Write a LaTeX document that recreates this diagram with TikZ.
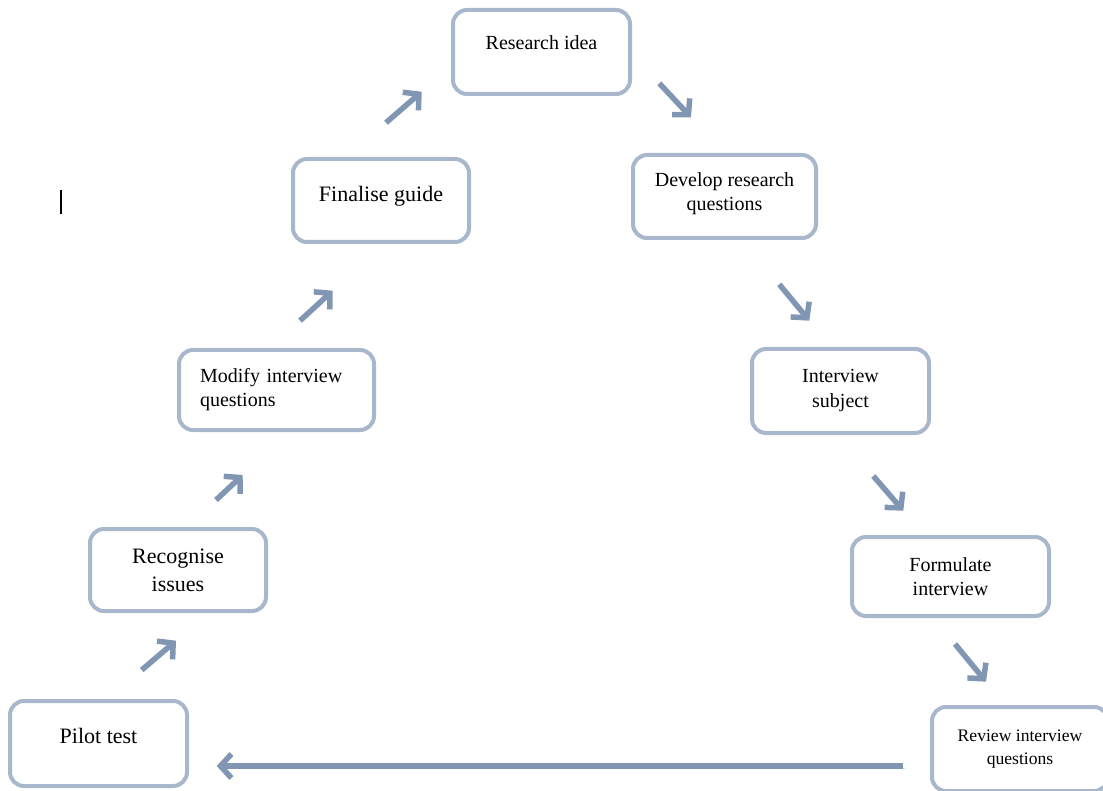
\documentclass[tikz,border=0pt]{standalone}
\usepackage{fontspec}
\setmainfont{Liberation Serif}
\usepackage{xcolor}
\usepackage{tikz}
\usetikzlibrary{arrows.meta,positioning}

\definecolor{boxline}{HTML}{A9B7CC}
\definecolor{arrowblue}{HTML}{8196B2}

\begin{document}
\begin{tikzpicture}[
    x=1pt, y=-1pt,
    stepbox/.style={rectangle, draw=boxline, line width=4pt, rounded corners=14pt, minimum width=177pt, minimum height=84pt, align=center, font=\fontsize{20}{24}\selectfont},
    bigtext/.style={font=\fontsize{22}{28}\selectfont},
    smalltext/.style={font=\fontsize{17.6}{23}\selectfont},
    arrow/.style={-{Straight Barb[length=11pt,width=24pt]}, line width=5.5pt, draw=arrowblue,
        preaction={draw=black, opacity=0.12, transform canvas={shift={(1.5pt,-2pt)}}}}
]
\useasboundingbox (0,0) rectangle (1103,791);

\node[stepbox, text depth=18pt] (idea) at (541.5,52) {Research idea};
\node[stepbox, bigtext, minimum width=176pt, minimum height=83pt, text depth=14pt] (guide) at (381,200.5) {Finalise guide};
\node[stepbox, minimum width=183pt, minimum height=83pt, text depth=10pt] (develop) at (724.5,196.5) {Develop research\\questions};
\node[stepbox, minimum width=195pt, minimum height=80pt, align=left, text width=153pt] (modify) at (276.5,390) {Modify interview\\questions};
\node[stepbox, font=\fontsize{20}{25}\selectfont] (subject) at (840.5,391) {Interview\\subject};
\node[stepbox, bigtext, minimum width=176pt, minimum height=82pt] (issues) at (178,570) {Recognise\\issues};
\node[stepbox, minimum width=197pt, minimum height=79pt] (formulate) at (950.5,576.5) {Formulate\\interview};
\node[stepbox, bigtext, minimum height=85pt, text depth=16pt] (pilot) at (98.5,743.5) {Pilot test};
\node[stepbox, smalltext, minimum width=176pt] (review) at (1020,749) {Review interview\\questions};

% arrow ends
\coordinate (pilotout) at (141.7,670);
\coordinate (issuesin) at (176,640.7);
\coordinate (issuesout) at (216,500);
\coordinate (modifyin) at (242.7,475);
\coordinate (modifyout) at (300,320.7);
\coordinate (guidein) at (332.7,290.7);
\coordinate (guideout) at (386,122.7);
\coordinate (ideain) at (421.7,91.7);
\coordinate (ideaout) at (659.3,83.3);
\coordinate (developin) at (691,117.3);
\coordinate (developout) at (779.3,284.3);
\coordinate (subjectin) at (809.3,320.7);
\coordinate (subjectout) at (873.3,476);
\coordinate (formulatein) at (903.3,510.7);
\coordinate (formulateout) at (955,644);
\coordinate (reviewin) at (986,681.7);
\coordinate (reviewout) at (903,766);
\coordinate (pilotin) at (216.7,766);

\draw[arrow] (pilotout) -- (issuesin);
\draw[arrow] (issuesout) -- (modifyin);
\draw[arrow] (modifyout) -- (guidein);
\draw[arrow] (guideout) -- (ideain);
\draw[arrow] (ideaout) -- (developin);
\draw[arrow] (developout) -- (subjectin);
\draw[arrow] (subjectout) -- (formulatein);
\draw[arrow] (formulateout) -- (reviewin);
\draw[arrow] (reviewout) -- (pilotin);

% text cursor
\coordinate (cursortop) at (61,190);
\coordinate (cursorbot) at (61,214);
\draw[line width=1.5pt] (cursortop) -- (cursorbot);
\end{tikzpicture}
\end{document}
